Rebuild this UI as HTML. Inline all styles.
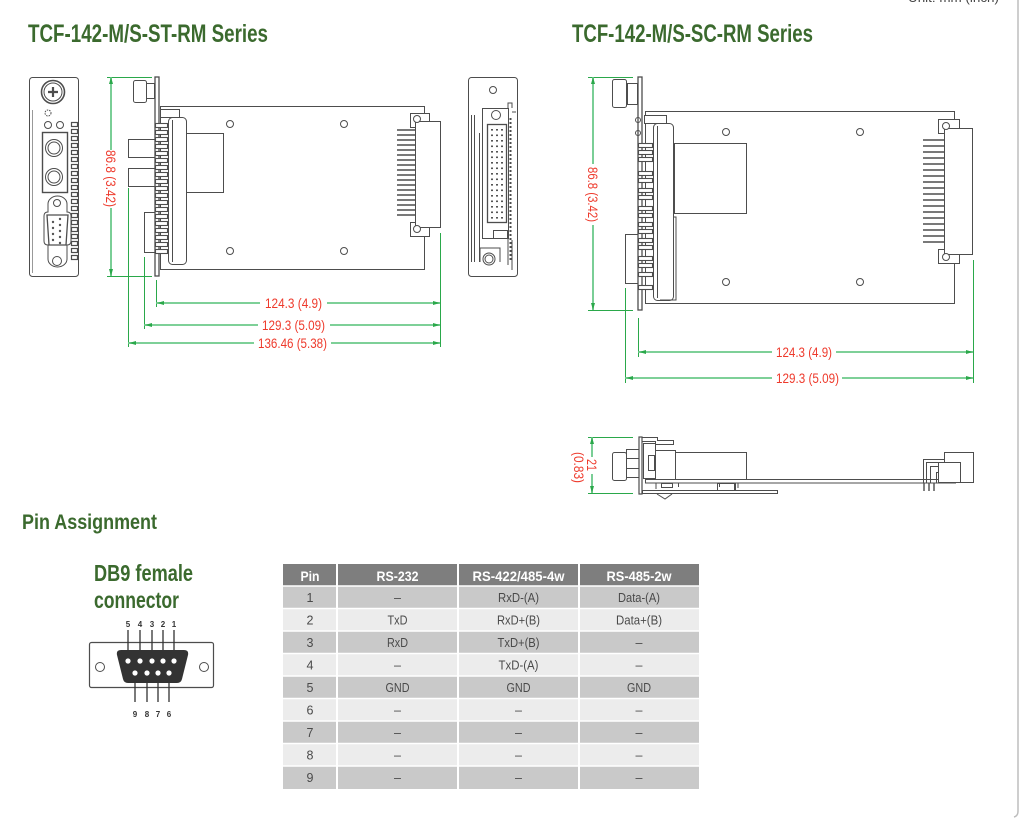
<!DOCTYPE html>
<html><head><meta charset="utf-8"><style>
html,body{margin:0;padding:0;background:#fff;}
svg{display:block;}
</style></head><body>
<svg width="1035" height="819" viewBox="0 0 1035 819" xmlns="http://www.w3.org/2000/svg" font-family="'Liberation Sans', sans-serif">
<rect width="1035" height="819" fill="#fff"/>

<!-- titles -->
<g fill="#3b6a2e" font-weight="bold">
<text x="28" y="42" font-size="25" textLength="240" lengthAdjust="spacingAndGlyphs">TCF-142-M/S-ST-RM Series</text>
<text x="572" y="42" font-size="25" textLength="241" lengthAdjust="spacingAndGlyphs">TCF-142-M/S-SC-RM Series</text>
<text x="22" y="529" font-size="21" textLength="135" lengthAdjust="spacingAndGlyphs">Pin Assignment</text>
<text x="94" y="581" font-size="23" textLength="99" lengthAdjust="spacingAndGlyphs">DB9 female</text>
<text x="94" y="608" font-size="23" textLength="85" lengthAdjust="spacingAndGlyphs">connector</text>
</g>
<text x="908" y="2" font-size="13" fill="#444" textLength="91" lengthAdjust="spacingAndGlyphs">Unit: mm (inch)</text>
<path d="M1018,0 V811 Q1018,816 1014,817" stroke="#bdbdbd" stroke-width="1.5" fill="none"/>

<!-- ST front panel -->
<g fill="none" stroke="#4d4d4d" stroke-width="1">
<rect x="29.5" y="77.5" width="49" height="199" rx="3"/>
<line x1="32.5" y1="110" x2="32.5" y2="273" stroke="#999"/>
<circle cx="53" cy="92" r="11.5" stroke-width="1.6"/>
<circle cx="53" cy="92" r="9"/>
<path d="M48,92H58M53,87V97" stroke-width="2.2"/>
<circle cx="48" cy="113" r="3" stroke-dasharray="1.5 1"/>
<circle cx="48" cy="125" r="3.5"/>
<circle cx="60" cy="125" r="3.5"/>
<rect x="42.5" y="132.5" width="25" height="60" stroke-width="1.4"/>
<circle cx="54" cy="148" r="8.5"/><circle cx="54" cy="148" r="6"/>
<circle cx="54" cy="177" r="8.5"/><circle cx="54" cy="177" r="6"/>
<path d="M48,212 V204 A9.5,8 0 0 1 67,204 V212 Q71,212 71,216 V241 Q71,245 67,245 V259 A9.5,8 0 0 1 48,259 V245 Q44,245 44,241 V216 Q44,212 48,212 Z"/>
<circle cx="57" cy="203" r="3.5"/>
<circle cx="57" cy="261" r="4.5"/>
<path d="M47,215 H68 L66,245 H49 Z" stroke-width="1.3"/>
<g fill="#555" stroke="none">
<circle cx="60" cy="219" r="1.2"/><circle cx="60" cy="225" r="1.2"/><circle cx="60" cy="231" r="1.2"/><circle cx="60" cy="237" r="1.2"/><circle cx="60" cy="243" r="1.2"/>
<circle cx="53" cy="222" r="1.2"/><circle cx="53" cy="228" r="1.2"/><circle cx="53" cy="234" r="1.2"/><circle cx="53" cy="240" r="1.2"/>
</g>
<g stroke-width="1.2">
<rect x="71.5" y="122.5" width="6" height="4"/><rect x="71.5" y="129.5" width="6" height="4"/><rect x="71.5" y="136.5" width="6" height="4"/><rect x="71.5" y="143.5" width="6" height="4"/><rect x="71.5" y="150.5" width="6" height="4"/><rect x="71.5" y="157.5" width="6" height="4"/><rect x="71.5" y="164.5" width="6" height="4"/><rect x="71.5" y="171.5" width="6" height="4"/><rect x="71.5" y="178.5" width="6" height="4"/><rect x="71.5" y="185.5" width="6" height="4"/><rect x="71.5" y="192.5" width="6" height="4"/><rect x="71.5" y="199.5" width="6" height="4"/><rect x="71.5" y="206.5" width="6" height="4"/><rect x="71.5" y="213.5" width="6" height="4"/><rect x="71.5" y="220.5" width="6" height="4"/><rect x="71.5" y="227.5" width="6" height="4"/><rect x="71.5" y="234.5" width="6" height="4"/><rect x="71.5" y="241.5" width="6" height="4"/><rect x="71.5" y="248.5" width="6" height="4"/><rect x="71.5" y="255.5" width="6" height="4"/>
</g>
</g>

<!-- ST side view -->
<g fill="none" stroke="#4d4d4d" stroke-width="1">
<rect x="160.5" y="106.5" width="264" height="163" fill="#fff"/>
<rect x="160.5" y="109.5" width="19" height="8" fill="#fff"/>
<rect x="168.5" y="117.5" width="18" height="147" rx="4" fill="#fff"/>
<line x1="172.5" y1="120" x2="172.5" y2="262"/>
<rect x="186.5" y="133.5" width="37" height="59"/>
<rect x="133.5" y="80.5" width="13" height="22" rx="2"/>
<rect x="146.5" y="83.5" width="8" height="15"/>
<rect x="128.5" y="139.5" width="27" height="18"/>
<rect x="128.5" y="168.5" width="27" height="18"/>
<rect x="144.5" y="212.5" width="11" height="40"/>
<rect x="155" y="77" width="4" height="199" fill="#fff" stroke-width="1.3"/>
<g fill="#fff" stroke-width="1.1">
<rect x="155.5" y="123.5" width="12" height="4"/><rect x="155.5" y="130.5" width="12" height="4"/><rect x="155.5" y="137.5" width="12" height="4"/><rect x="155.5" y="144.5" width="12" height="4"/><rect x="155.5" y="151.5" width="12" height="4"/><rect x="155.5" y="158.5" width="12" height="4"/><rect x="155.5" y="165.5" width="12" height="4"/><rect x="155.5" y="172.5" width="12" height="4"/><rect x="155.5" y="179.5" width="12" height="4"/><rect x="155.5" y="186.5" width="12" height="4"/><rect x="155.5" y="193.5" width="12" height="4"/><rect x="155.5" y="200.5" width="12" height="4"/><rect x="155.5" y="207.5" width="12" height="4"/><rect x="155.5" y="214.5" width="12" height="4"/><rect x="155.5" y="221.5" width="12" height="4"/><rect x="155.5" y="228.5" width="12" height="4"/><rect x="155.5" y="235.5" width="12" height="4"/><rect x="155.5" y="242.5" width="12" height="4"/><rect x="155.5" y="249.5" width="12" height="4"/>
</g>
<circle cx="230" cy="124" r="3.5"/><circle cx="344" cy="124" r="3.5"/>
<circle cx="230" cy="251" r="3.5"/><circle cx="344" cy="251" r="3.5"/>
<rect x="410.5" y="113.5" width="19" height="14" fill="#fff"/>
<rect x="410.5" y="222.5" width="19" height="14" fill="#fff"/>
<rect x="415.5" y="121.5" width="25" height="106" fill="#fff"/>
<circle cx="417" cy="119" r="3.5" fill="#fff"/><circle cx="417" cy="229" r="3.5" fill="#fff"/>
<path stroke-width="1.6" d="M397,130H415M397,135H415M397,140H415M397,145H415M397,150H415M397,155H415M397,160H415M397,165H415M397,170H415M397,175H415M397,180H415M397,185H415M397,190H415M397,195H415M397,200H415M397,205H415M397,210H415M397,215H415"/>
</g>

<!-- middle rear panel -->
<g fill="none" stroke="#4d4d4d" stroke-width="1">
<rect x="468.5" y="77.5" width="49" height="199" rx="3"/>
<circle cx="493" cy="90" r="3.5"/>
<line x1="471.5" y1="115" x2="471.5" y2="262"/>
<line x1="474.5" y1="115" x2="474.5" y2="262"/>
<line x1="479.5" y1="133" x2="479.5" y2="262"/>
<rect x="482.5" y="108.5" width="26" height="130"/>
<rect x="487.5" y="124.5" width="19" height="98" stroke-width="1.3"/>
<circle cx="496" cy="115" r="4.5"/>
<path d="M508,108 V103 H512 V108 M512,112 H516 M512,240 V270 M508,238 V265" />
<path stroke-dasharray="2 2" d="M510.5,118 V262" stroke-width="2"/>
<g fill="#555" stroke="none">
<rect x="491" y="129" width="2" height="1.6"/><rect x="496" y="129" width="2" height="1.6"/><rect x="501" y="129" width="2" height="1.6"/>
<rect x="491" y="134.5" width="2" height="1.6"/><rect x="496" y="134.5" width="2" height="1.6"/><rect x="501" y="134.5" width="2" height="1.6"/>
<rect x="491" y="140" width="2" height="1.6"/><rect x="496" y="140" width="2" height="1.6"/><rect x="501" y="140" width="2" height="1.6"/>
<rect x="491" y="145.5" width="2" height="1.6"/><rect x="496" y="145.5" width="2" height="1.6"/><rect x="501" y="145.5" width="2" height="1.6"/>
<rect x="491" y="151" width="2" height="1.6"/><rect x="496" y="151" width="2" height="1.6"/><rect x="501" y="151" width="2" height="1.6"/>
<rect x="491" y="156.5" width="2" height="1.6"/><rect x="496" y="156.5" width="2" height="1.6"/><rect x="501" y="156.5" width="2" height="1.6"/>
<rect x="491" y="162" width="2" height="1.6"/><rect x="496" y="162" width="2" height="1.6"/><rect x="501" y="162" width="2" height="1.6"/>
<rect x="491" y="167.5" width="2" height="1.6"/><rect x="496" y="167.5" width="2" height="1.6"/><rect x="501" y="167.5" width="2" height="1.6"/>
<rect x="491" y="173" width="2" height="1.6"/><rect x="496" y="173" width="2" height="1.6"/><rect x="501" y="173" width="2" height="1.6"/>
<rect x="491" y="178.5" width="2" height="1.6"/><rect x="496" y="178.5" width="2" height="1.6"/><rect x="501" y="178.5" width="2" height="1.6"/>
<rect x="491" y="184" width="2" height="1.6"/><rect x="496" y="184" width="2" height="1.6"/><rect x="501" y="184" width="2" height="1.6"/>
<rect x="491" y="189.5" width="2" height="1.6"/><rect x="496" y="189.5" width="2" height="1.6"/><rect x="501" y="189.5" width="2" height="1.6"/>
<rect x="491" y="195" width="2" height="1.6"/><rect x="496" y="195" width="2" height="1.6"/><rect x="501" y="195" width="2" height="1.6"/>
<rect x="491" y="200.5" width="2" height="1.6"/><rect x="496" y="200.5" width="2" height="1.6"/><rect x="501" y="200.5" width="2" height="1.6"/>
<rect x="491" y="206" width="2" height="1.6"/><rect x="496" y="206" width="2" height="1.6"/><rect x="501" y="206" width="2" height="1.6"/>
<rect x="491" y="211.5" width="2" height="1.6"/><rect x="496" y="211.5" width="2" height="1.6"/><rect x="501" y="211.5" width="2" height="1.6"/>
<rect x="491" y="217" width="2" height="1.6"/><rect x="496" y="217" width="2" height="1.6"/><rect x="501" y="217" width="2" height="1.6"/>
</g>
<rect x="493.5" y="230.5" width="14" height="8"/>
<path d="M480,262 V248 H500 V262"/>
<circle cx="489" cy="259" r="6"/><circle cx="489" cy="259" r="4"/>
</g>

<!-- SC side view -->
<g fill="none" stroke="#4d4d4d" stroke-width="1">
<rect x="645.5" y="111.5" width="309" height="192" fill="#fff"/>
<rect x="644.5" y="115.5" width="22" height="8" fill="#fff"/>
<rect x="653.5" y="123.5" width="20" height="177" rx="4" fill="#fff"/>
<line x1="657.5" y1="126" x2="657.5" y2="298"/>
<path d="M674,217 H676 V300 H660"/>
<rect x="674.5" y="143.5" width="72" height="70"/>
<rect x="612.5" y="79.5" width="14" height="28" rx="2"/>
<rect x="627.5" y="83.5" width="10" height="21"/>
<rect x="625.5" y="234.5" width="14" height="49"/>
<rect x="638" y="77" width="4" height="233" fill="#fff" stroke-width="1.3"/>
<circle cx="638" cy="120" r="2.5"/><circle cx="638" cy="133" r="2.5"/>
<g fill="#fff" stroke-width="1.1">
<rect x="638.5" y="143.5" width="14" height="4"/><rect x="638.5" y="150.5" width="14" height="4"/><rect x="638.5" y="157.5" width="14" height="4"/><rect x="638.5" y="171.5" width="14" height="4"/><rect x="638.5" y="178.5" width="14" height="4"/><rect x="638.5" y="188.5" width="14" height="4"/><rect x="638.5" y="195.5" width="14" height="4"/><rect x="638.5" y="206.5" width="14" height="4"/><rect x="638.5" y="213.5" width="14" height="4"/><rect x="638.5" y="222.5" width="14" height="4"/><rect x="638.5" y="229.5" width="14" height="4"/><rect x="638.5" y="238.5" width="14" height="4"/><rect x="638.5" y="245.5" width="14" height="4"/><rect x="638.5" y="256.5" width="14" height="4"/><rect x="638.5" y="263.5" width="14" height="4"/><rect x="638.5" y="272.5" width="14" height="4"/><rect x="638.5" y="285.5" width="14" height="4"/>
</g>
<circle cx="726" cy="132" r="3.5"/><circle cx="860" cy="132" r="3.5"/>
<circle cx="726" cy="282" r="3.5"/><circle cx="860" cy="282" r="3.5"/>
<rect x="938.5" y="119.5" width="21" height="14" fill="#fff"/>
<rect x="938.5" y="249.5" width="21" height="14" fill="#fff"/>
<rect x="944.5" y="128.5" width="28" height="126" fill="#fff"/>
<circle cx="946" cy="126" r="3.5" fill="#fff"/><circle cx="946" cy="257" r="3.5" fill="#fff"/>
<path stroke-width="1.6" d="M923,140H944M923,146H944M923,152H944M923,158H944M923,164H944M923,170H944M923,176H944M923,182H944M923,188H944M923,194H944M923,200H944M923,206H944M923,212H944M923,218H944M923,224H944M923,230H944M923,236H944M923,242H944"/>
</g>

<!-- SC bottom side view -->
<g fill="none" stroke="#4d4d4d" stroke-width="1">
<path d="M642.5,437.5 H657.5 V440.5 H673.5 V444.5 H655.5 V441.5 H642.5"/>
<rect x="612.5" y="452.5" width="14" height="28" rx="2"/>
<rect x="626.5" y="449.5" width="13" height="28"/>
<line x1="626" y1="458.5" x2="639" y2="458.5"/><line x1="626" y1="468.5" x2="639" y2="468.5"/>
<rect x="639" y="437" width="3" height="57" fill="#fff" stroke-width="1.2"/>
<rect x="643.5" y="443.5" width="12" height="35"/>
<rect x="648.5" y="455.5" width="6" height="15"/>
<rect x="655.5" y="450.5" width="20" height="29"/>
<rect x="675.5" y="452.5" width="71" height="27"/>
<rect x="645.5" y="479.5" width="310" height="3.5" fill="#fff"/>
<rect x="642.5" y="490.5" width="135" height="3"/>
<polyline points="657,494 665,499 672,494"/>
<rect x="661.5" y="483.5" width="11" height="4"/>
<path d="M656,483 V489 M678.5,483 V487 M719.5,483 V487 M734.5,483 V491 M738,483 V488"/>
<rect x="717.5" y="483.5" width="18" height="7"/>
<rect x="944.5" y="452.5" width="29" height="30"/>
<rect x="938.5" y="462.5" width="22" height="20" fill="#fff"/>
<path d="M923.5,483 V459.5 H944 M926.5,483 V462.5 H938 M930.5,483 V466.5 H938 M936.5,483 V472.5 H938"/>
<path d="M924,483 V491 M929,483 V491 M934,483 V491" stroke-width="1.4"/>
</g>

<!-- dimensions -->
<g stroke="#2aa84a" stroke-width="1" fill="none">
<!-- ST vertical -->
<path d="M107,77.5H152M107,276.5H152"/>
<path d="M111,77V150M111,208V276" stroke="#6cc98a" stroke-width="1.8"/>
<!-- ST horizontals ext -->
<path d="M156.5,280V307M144.5,257V329M128.5,188V347M440.5,233V347"/>
<path d="M156,303H260M327,303H440M144,325H258M330,325H440M128,343H254M331,343H440" stroke="#6cc98a" stroke-width="1.8"/>
<!-- SC vertical -->
<path d="M588,77.5H633M588,310.5H633"/>
<path d="M593,77V164M593,225V310" stroke="#6cc98a" stroke-width="1.8"/>
<path d="M638.5,318V357M625.5,288V383M973.5,260V383"/>
<path d="M638,352H772M836,352H973M625,378H772M842,378H973" stroke="#6cc98a" stroke-width="1.8"/>
<!-- side -->
<path d="M588,437.5H633M588,493.5H633"/>
<path d="M592,437V457M592,474V493" stroke="#6cc98a" stroke-width="1.8"/>
</g>
<g fill="#2aa84a">
<polygon points="111,77 109,84 113,84"/><polygon points="111,276 109,269 113,269"/>
<polygon points="157,303 164,301 164,305"/><polygon points="440,303 433,301 433,305"/>
<polygon points="145,325 152,323 152,327"/><polygon points="440,325 433,323 433,327"/>
<polygon points="129,343 136,341 136,345"/><polygon points="440,343 433,341 433,345"/>
<polygon points="593,77 591,84 595,84"/><polygon points="593,310 591,303 595,303"/>
<polygon points="639,352 646,350 646,354"/><polygon points="973,352 966,350 966,354"/>
<polygon points="626,378 633,376 633,380"/><polygon points="973,378 966,376 966,380"/>
<polygon points="592,437 590,444 594,444"/><polygon points="592,493 590,486 594,486"/>
</g>
<g fill="#ee3a2c" font-size="13.5">
<text x="265" y="308" textLength="57" lengthAdjust="spacingAndGlyphs">124.3 (4.9)</text>
<text x="262" y="330" textLength="63" lengthAdjust="spacingAndGlyphs">129.3 (5.09)</text>
<text x="258" y="348" textLength="69" lengthAdjust="spacingAndGlyphs">136.46 (5.38)</text>
<text x="776" y="357" textLength="56" lengthAdjust="spacingAndGlyphs">124.3 (4.9)</text>
<text x="776" y="383" textLength="63" lengthAdjust="spacingAndGlyphs">129.3 (5.09)</text>
<text transform="translate(106,150) rotate(90)" textLength="57" lengthAdjust="spacingAndGlyphs">86.8 (3.42)</text>
<text transform="translate(588,167) rotate(90)" textLength="55" lengthAdjust="spacingAndGlyphs">86.8 (3.42)</text>
<text transform="translate(587,459) rotate(90)" textLength="12" lengthAdjust="spacingAndGlyphs">21</text>
<text transform="translate(574,452) rotate(90)" textLength="31" lengthAdjust="spacingAndGlyphs">(0.83)</text>
</g>

<!-- DB9 connector drawing -->
<g>
<rect x="89.5" y="642.5" width="124" height="45" rx="2" fill="none" stroke="#4d4d4d" stroke-width="1.2"/>
<circle cx="100" cy="667" r="4.5" fill="none" stroke="#4d4d4d"/>
<circle cx="204" cy="667" r="4.5" fill="none" stroke="#4d4d4d"/>
<path d="M121,650 H184 Q189,650 188,655 L182,679 Q181,683 177,683 H128 Q124,683 123,679 L117,655 Q116,650 121,650 Z" fill="#333"/>
<g fill="#fff">
<circle cx="128" cy="661" r="2.6"/><circle cx="140" cy="661" r="2.6"/><circle cx="152" cy="661" r="2.6"/><circle cx="163" cy="661" r="2.6"/><circle cx="174" cy="661" r="2.6"/>
<circle cx="135" cy="673" r="2.6"/><circle cx="147" cy="673" r="2.6"/><circle cx="158" cy="673" r="2.6"/><circle cx="169" cy="673" r="2.6"/>
</g>
<path d="M128,630V650M140,630V650M152,630V650M163,630V650M174,630V650M135,683V702M147,683V702M158,683V702M169,683V702" stroke="#333" stroke-width="1.3"/>
<g font-size="8" font-weight="bold" fill="#333" text-anchor="middle">
<text x="128" y="627">5</text><text x="140" y="627">4</text><text x="152" y="627">3</text><text x="163" y="627">2</text><text x="174" y="627">1</text>
<text x="135" y="717">9</text><text x="147" y="717">8</text><text x="158" y="717">7</text><text x="169" y="717">6</text>
</g>
</g>

<!-- table -->
<g>
<rect x="283" y="564" width="416" height="22" fill="#7e7e7e"/>
<rect x="283" y="586" width="416" height="22.5" fill="#c9c9c9"/>
<rect x="283" y="608.5" width="416" height="22.5" fill="#ececec"/>
<rect x="283" y="631" width="416" height="22.5" fill="#c9c9c9"/>
<rect x="283" y="653.5" width="416" height="22.5" fill="#ececec"/>
<rect x="283" y="676" width="416" height="22.5" fill="#c9c9c9"/>
<rect x="283" y="698.5" width="416" height="22.5" fill="#ececec"/>
<rect x="283" y="721" width="416" height="22.5" fill="#c9c9c9"/>
<rect x="283" y="743.5" width="416" height="22.5" fill="#ececec"/>
<rect x="283" y="766" width="416" height="23" fill="#c9c9c9"/>
<path d="M283,586H699M283,608.5H699M283,631H699M283,653.5H699M283,676H699M283,698.5H699M283,721H699M283,743.5H699M283,766H699" stroke="#fff" stroke-width="1.5"/>
<path d="M337,564V789M458,564V789M579,564V789" stroke="#fff" stroke-width="2"/>
<g fill="#fff" font-weight="bold" font-size="14" text-anchor="middle">
<text x="310" y="581" textLength="19" lengthAdjust="spacingAndGlyphs">Pin</text>
<text x="397.5" y="581" textLength="42" lengthAdjust="spacingAndGlyphs">RS-232</text>
<text x="518.5" y="581" textLength="92" lengthAdjust="spacingAndGlyphs">RS-422/485-4w</text>
<text x="639" y="581" textLength="65" lengthAdjust="spacingAndGlyphs">RS-485-2w</text>
</g>
<g fill="#4a4a4a" font-size="12.5" text-anchor="middle">
<text x="310" y="602">1</text><text x="397.5" y="602">–</text><text x="518.5" y="602" textLength="41" lengthAdjust="spacingAndGlyphs">RxD-(A)</text><text x="639" y="602" textLength="42" lengthAdjust="spacingAndGlyphs">Data-(A)</text>
<text x="310" y="624.5">2</text><text x="397.5" y="624.5" textLength="20" lengthAdjust="spacingAndGlyphs">TxD</text><text x="518.5" y="624.5" textLength="43" lengthAdjust="spacingAndGlyphs">RxD+(B)</text><text x="639" y="624.5" textLength="46" lengthAdjust="spacingAndGlyphs">Data+(B)</text>
<text x="310" y="647">3</text><text x="397.5" y="647" textLength="21" lengthAdjust="spacingAndGlyphs">RxD</text><text x="518.5" y="647" textLength="42" lengthAdjust="spacingAndGlyphs">TxD+(B)</text><text x="639" y="647">–</text>
<text x="310" y="669.5">4</text><text x="397.5" y="669.5">–</text><text x="518.5" y="669.5" textLength="40" lengthAdjust="spacingAndGlyphs">TxD-(A)</text><text x="639" y="669.5">–</text>
<text x="310" y="692">5</text><text x="397.5" y="692" textLength="24" lengthAdjust="spacingAndGlyphs">GND</text><text x="518.5" y="692" textLength="24" lengthAdjust="spacingAndGlyphs">GND</text><text x="639" y="692" textLength="24" lengthAdjust="spacingAndGlyphs">GND</text>
<text x="310" y="714.5">6</text><text x="397.5" y="714.5">–</text><text x="518.5" y="714.5">–</text><text x="639" y="714.5">–</text>
<text x="310" y="737">7</text><text x="397.5" y="737">–</text><text x="518.5" y="737">–</text><text x="639" y="737">–</text>
<text x="310" y="759.5">8</text><text x="397.5" y="759.5">–</text><text x="518.5" y="759.5">–</text><text x="639" y="759.5">–</text>
<text x="310" y="782">9</text><text x="397.5" y="782">–</text><text x="518.5" y="782">–</text><text x="639" y="782">–</text>
</g>
</g>
</svg>
</body></html>
